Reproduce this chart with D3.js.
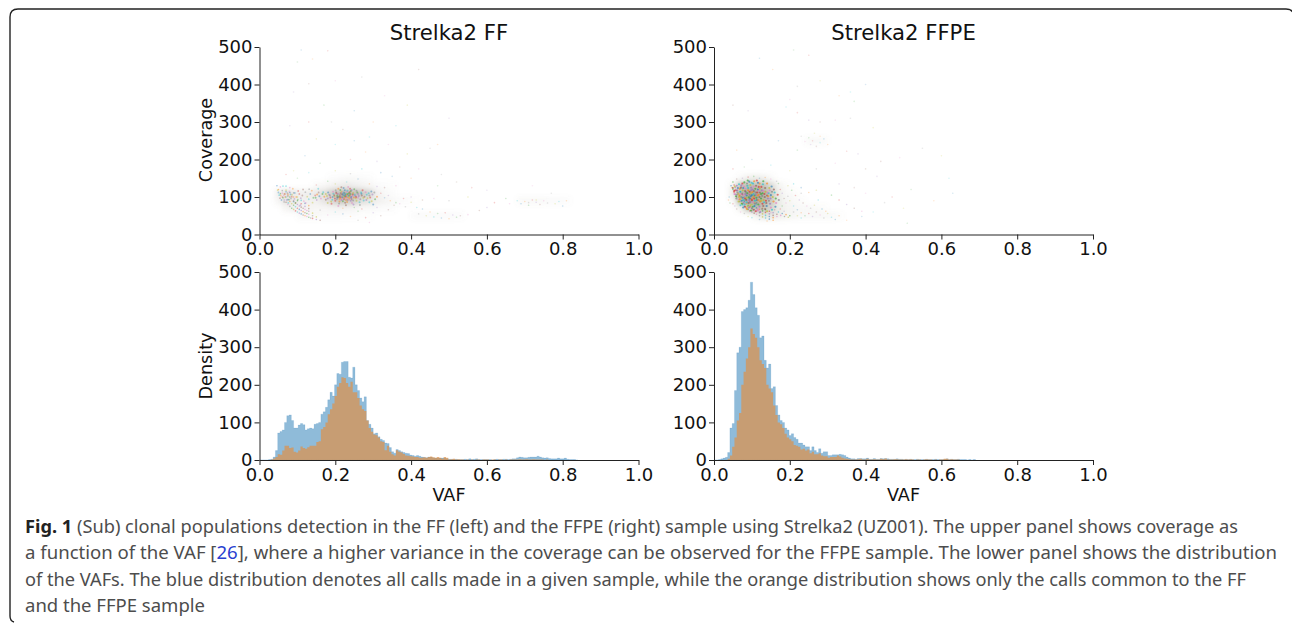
<!DOCTYPE html>
<html>
<head>
<meta charset="utf-8">
<script src="https://cdn.jsdelivr.net/npm/d3@7"></script>
<style>
  html, body { margin: 0; padding: 0; background: #fff; }
  svg { display: block; }
  .axis text { font-family: "DejaVu Sans", sans-serif; font-size: 18px; fill: #111; }
  .axis path, .axis line { stroke: #222; stroke-width: 1; }
  .label { font-family: "DejaVu Sans", sans-serif; font-size: 17.6px; fill: #111; text-anchor: middle; }
  .title { font-family: "DejaVu Sans", sans-serif; font-size: 21.2px; fill: #111; text-anchor: middle; }
  .caption { font-family: "Noto Sans", sans-serif; font-size: 18px; fill: #4d4d4d; }
  .caption .fig { font-weight: 700; fill: #222; }
  .caption .ref { fill: #2a3fd0; }
</style>
</head>
<body>
<svg id="chart" width="1292" height="624"></svg>
<script>
const BIN_WIDTH = 0.006;
const CELL_VAF = 0.02;
const CELL_COV = 20;
const X_TICKS = [0, 0.2, 0.4, 0.6, 0.8, 1];
const Y_TICKS = [0, 100, 200, 300, 400, 500];

// histogram heights, one per bin, starting at VAF 0
const ffAll = [0,0,0,0,1,2,8,25,72,76,80,100,118,120,105,85,85,93,97,94,80,83,85,83,95,97,100,122,128,140,160,180,170,200,230,228,260,262,262,220,218,247,200,185,165,155,168,105,95,85,70,72,62,55,52,45,44,33,22,18,28,25,22,20,18,17,13,12,10,12,10,8,7,6,8,8,6,5,6,5,5,6,4,2,2,2,2,1,1,1,2,1,3,1,2,3,1,1,1,1,1,1,0,1,2,1,1,2,2,1,2,3,3,6,8,7,6,6,7,8,8,8,10,8,6,5,6,4,3,3,3,5,3,3,5,2,1,1,1,0];
const ffCommon = [0,0,0,0,0,1,4,8,15,14,25,38,38,32,33,22,20,25,36,32,30,34,38,38,38,48,50,82,88,100,122,135,150,170,195,205,220,218,205,195,208,180,180,165,145,135,130,105,85,75,68,66,60,50,48,26,38,22,15,12,26,22,20,16,12,11,10,9,8,8,6,6,7,6,8,9,7,6,8,6,3,8,6,1,2,3,1,2,1,1,0,1,0,1,0,1,1,0,1,1,1,0,1,1,0,1,1,0,1,0,1,1,1,1,2,1,1,2,1,1,2,1,1,1,1,0,1];
const ffpeAll = [0,0,1,3,5,7,20,85,97,185,285,300,395,400,405,425,473,440,405,385,325,330,265,245,255,190,195,145,120,105,100,85,80,65,70,60,55,45,45,40,35,35,25,35,25,20,30,18,22,22,12,12,14,14,14,15,14,12,8,5,3,3,2,4,4,3,3,5,2,2,4,2,2,4,3,4,3,2,2,2,3,2,2,1,2,1,2,1,1,2,1,1,1,2,1,1,1,2,1,1,1,2,3,1,2,1,1,2,1,1,1,0,1,0,1];
const ffpeCommon = [0,0,0,0,0,0,3,12,35,60,105,125,200,235,270,300,350,335,325,300,265,255,245,200,190,180,145,120,100,95,85,70,60,55,50,40,38,35,28,30,25,28,18,22,15,15,18,12,10,10,6,8,8,8,12,9,6,4,3,2,1,1,1,2,3,1,1,3,1,1,2,1,1,3,2,4,1,1,1,2,2,1,1,1,2,1,2,1,0,1,1,0,1,2,1,1,0,1,0,1,1,3,3,1,2,1,1,1];

const ffHaze = [[.04,100,.12],[.06,100,.24],[.08,100,.18],[.1,100,.12],[.12,100,.14],[.14,100,.18],[.16,100,.26],[.18,100,.4],[.2,100,.55],[.22,100,.62],[.24,100,.55],[.26,100,.45],[.28,100,.34],[.3,100,.12],[.32,100,.06],[.34,100,.03],
  [.04,80,.08],[.06,80,.22],[.08,80,.17],[.1,80,.12],[.12,80,.12],[.14,80,.12],[.16,80,.2],[.18,80,.32],[.2,80,.45],[.22,80,.45],[.24,80,.38],[.26,80,.27],[.28,80,.22],[.3,80,.12],[.32,80,.09],[.34,80,.06],[.36,80,.04],[.38,80,.03],[.4,80,.02],
  [.14,120,.05],[.16,120,.07],[.18,120,.1],[.2,120,.14],[.22,120,.17],[.24,120,.14],[.26,120,.1],[.28,120,.07],[.3,120,.04],[.32,120,.03],[.34,120,.02],
  [.06,60,.08],[.08,60,.12],[.1,60,.1],[.12,60,.08],[.14,60,.07],[.16,60,.07],[.18,60,.08],[.2,60,.09],[.22,60,.09],[.24,60,.08],[.26,60,.06],[.28,60,.05],[.3,60,.04],[.32,60,.03],[.34,60,.03],
  [.1,40,.06],[.12,40,.06],[.14,40,.05],[.16,40,.04],[.18,40,.04],[.2,40,.04],[.22,40,.03],[.24,40,.03],[.26,40,.02],[.28,40,.02],[.4,40,.04],[.42,40,.04],[.44,40,.04],[.46,40,.04],[.48,40,.04],[.5,40,.04],[.52,40,.03],
  [.18,140,.03],[.2,140,.04],[.22,140,.05],[.24,140,.05],[.26,140,.04],[.28,140,.03],[.68,80,.05],[.7,80,.05],[.72,80,.05],[.74,80,.05],[.76,80,.04],[.78,80,.04],[.8,80,.03]];
const ffpeHaze = [[.04,120,.1],[.06,120,.45],[.08,120,.55],[.1,120,.55],[.12,120,.5],[.14,120,.3],[.16,120,.1],[.18,120,.03],
  [.04,100,.15],[.06,100,.6],[.08,100,.7],[.1,100,.7],[.12,100,.65],[.14,100,.45],[.16,100,.14],[.18,100,.06],[.2,100,.03],
  [.04,80,.05],[.06,80,.55],[.08,80,.7],[.1,80,.7],[.12,80,.6],[.14,80,.45],[.16,80,.17],[.18,80,.08],[.2,80,.05],[.22,80,.03],
  [.06,60,.1],[.08,60,.45],[.1,60,.55],[.12,60,.5],[.14,60,.35],[.16,60,.17],[.18,60,.1],[.2,60,.07],[.22,60,.06],[.24,60,.05],[.26,60,.04],[.28,60,.03],
  [.1,40,.1],[.12,40,.2],[.14,40,.2],[.16,40,.14],[.18,40,.1],[.2,40,.07],[.22,40,.06],[.24,40,.06],[.26,40,.06],[.28,40,.06],[.3,40,.05],[.32,40,.03],
  [.06,140,.05],[.08,140,.12],[.1,140,.15],[.12,140,.12],[.14,140,.05],[.24,240,.05],[.26,240,.06],[.28,240,.04]];

// FF scatter, [VAF, coverage]
const ffCore = [[.221,104],[.214,97],[.236,110],[.228,101],[.207,108],[.243,95],[.219,113],[.232,92],[.198,102],[.251,106],[.225,118],[.211,88],[.241,116],[.187,99],[.262,103],[.217,107],[.229,96],[.204,94],[.247,111],[.195,109],[.226,106],[.233,99],[.209,101],[.238,104],[.216,92],[.224,111],[.245,102],[.202,113],[.254,97],[.192,93],[.269,109],[.231,87],[.213,119],[.239,122],[.184,106],[.277,101],[.222,98],[.235,105],[.218,101],[.227,109],[.206,98],[.249,99],[.258,112],[.199,96],[.241,90],[.212,105],[.23,114],[.266,94],[.178,103],[.283,106],[.22,108],[.237,96],[.205,104],[.246,107],[.215,100],[.223,94],[.194,114],[.256,117],[.274,98],[.288,110],[.181,112],[.171,101],[.166,108],[.292,99],[.298,107],[.226,85],[.244,84],[.21,83],[.189,88],[.264,86],[.222,124],[.208,122],[.25,121],[.272,118],[.282,92],[.175,93],[.162,96],[.303,112],[.296,89],[.234,103],[.219,99],[.228,92],[.24,108],[.203,110],[.253,103],[.197,105],[.26,98],[.186,104],[.216,114],[.232,117],[.242,100],[.211,95],[.225,102],[.238,113],[.26,108],[.27,104],[.28,113],[.29,104],[.175,108],[.168,113],[.158,102],[.152,107],[.148,98],[.2,90],[.18,96],[.214,110],[.236,93],[.247,91],[.256,90],[.268,112],[.193,100],[.23,106],[.22,89],[.255,100],[.243,119],[.216,126],[.234,127],[.201,118],[.285,97],[.275,91],[.295,115],[.31,101],[.305,94],[.19,82],[.248,80],[.228,78],[.208,76],[.265,79],[.18,84],[.29,86],[.3,80],[.224,98],[.232,108],[.212,100],[.241,98],[.205,100],[.218,94],[.227,104],[.237,101],[.222,112]];
const ffLobe = [[.05,112],[.056,104],[.062,98],[.067,108],[.072,92],[.075,103],[.079,115],[.083,96],[.086,106],[.09,88],[.093,111],[.097,100],[.101,93],[.105,108],[.109,97],[.113,104],[.117,89],[.121,113],[.126,101],[.13,94],[.134,108],[.138,117],[.142,98],[.147,104],[.151,92],[.156,112],[.06,110],[.065,87],[.07,118],[.076,84],[.082,107],[.088,122],[.095,84],[.102,116],[.108,78],[.115,120],[.122,84],[.131,121],[.14,85],[.155,122],[.058,92],[.068,100],[.078,93],[.085,101],[.092,95],[.054,97],[.064,104],[.074,110],[.048,118],[.052,105]];
const ffArcs = [[.046,130],[.05,120],[.055,109],[.06,100],[.065,92],[.07,86],[.075,80],[.08,75],[.09,67],[.1,60],[.11,55],[.12,50],[.13,46],[.14,43],[.15,40],[.16,38],[.055,127],[.06,117],[.065,108],[.07,100],[.075,93],[.08,88],[.09,78],[.1,70],[.11,64],[.12,58],[.13,54],[.14,50],[.15,47],[.062,129],[.07,114],[.075,107],[.08,100],[.09,89],[.1,80],[.11,73],[.12,67],[.13,62],[.14,57],[.07,129],[.08,112],[.09,100],[.1,90],[.11,82],[.12,75],[.13,69],[.08,125],[.09,111],[.1,100],[.11,91],[.12,83],[.13,77],[.085,70],[.095,63],[.105,57],[.115,52],[.125,48],[.135,44],[.085,82],[.095,74],[.105,67],[.115,61],[.125,56],[.095,84],[.105,76],[.115,70],[.125,64]];
const ffHalo = [[.33,98],[.345,90],[.36,85],[.32,110],[.34,104],[.355,78],[.37,82],[.385,74],[.4,86],[.415,72],[.43,68],[.45,60],[.47,56],[.49,58],[.51,52],[.53,50],[.55,53],[.42,55],[.44,50],[.46,47],[.48,44],[.5,42],[.52,46],[.38,96],[.4,100],[.43,92],[.46,96],[.5,90],[.55,100],[.68,90],[.69,82],[.7,88],[.71,78],[.72,92],[.73,86],[.74,80],[.75,90],[.76,84],[.78,82],[.79,88],[.8,76],[.81,90],[.65,96],[.62,85],[.6,72],[.58,64],[.66,82],[.71,85],[.73,92],[.2,60],[.22,55],[.24,48],[.26,62],[.28,45],[.3,58],[.32,50],[.18,52],[.16,65],[.2,135],[.23,140],[.26,148],[.29,135],[.18,142],[.15,132],[.31,128],[.33,125],[.36,130],[.24,162],[.2,170],[.27,175],[.32,165],[.22,70],[.25,72],[.27,68],[.31,72],[.34,66],[.29,32],[.26,38]];
const ffSparse = [[.11,492],[.14,468],[.1,460],[.18,490],[.09,380],[.13,402],[.2,410],[.27,420],[.39,345],[.36,290],[.25,330],[.3,300],[.17,345],[.13,300],[.08,290],[.22,280],[.34,240],[.45,230],[.39,215],[.2,240],[.12,210],[.28,220],[.16,190],[.24,200],[.31,195],[.37,180],[.42,175],[.48,160],[.09,170],[.13,165],[.35,155],[.4,150],[.47,130],[.56,125],[.6,118],[.52,140],[.72,130],[.77,110],[.15,255],[.29,260],[.25,250],[.47,240],[.1,150],[.07,160],[.5,310],[.42,440],[.33,370],[.19,300]];

// FFPE scatter, [VAF, coverage]
const ffpeCore = [[.1,105],[.09,118],[.112,98],[.082,96],[.095,87],[.121,112],[.105,128],[.074,109],[.131,92],[.088,130],[.116,120],[.068,122],[.102,74],[.128,82],[.078,84],[.14,104],[.147,118],[.062,112],[.097,110],[.108,90],[.086,104],[.118,106],[.092,99],[.125,127],[.072,131],[.135,124],[.083,122],[.11,112],[.066,100],[.103,136],[.093,141],[.12,136],[.08,139],[.056,118],[.06,130],[.05,124],[.054,108],[.059,96],[.065,88],[.07,78],[.077,72],[.087,68],[.098,64],[.11,62],[.122,60],[.135,68],[.15,72],[.145,90],[.155,100],[.16,112],[.152,128],[.14,136],[.13,142],[.113,144],[.098,125],[.105,116],[.091,108],[.084,113],[.076,118],[.069,114],[.063,124],[.115,104],[.124,96],[.133,108],[.142,96],[.138,84],[.12,74],[.108,82],[.096,78],[.086,86],[.076,98],[.099,95],[.107,104],[.094,114],[.102,120],[.111,130],[.119,117],[.127,103],[.136,114],[.144,110],[.15,105],[.157,88],[.163,96],[.168,106],[.148,82],[.13,76],[.115,68],[.1,70],[.089,75],[.081,80],[.073,90],[.067,104],[.058,102],[.053,116],[.061,118],[.071,125],[.079,128],[.087,136],[.096,132],[.104,108],[.113,92],[.122,88],[.117,80],[.106,96],[.093,92],[.085,92],[.078,106],[.072,100],[.064,108],[.09,124],[.097,102],[.101,113],[.109,122],[.118,127],[.126,118],[.134,100],[.141,112],[.153,114],[.146,124],[.129,134],[.116,138],[.106,142],[.089,144],[.075,136],[.083,108],[.091,84],[.103,86],[.112,84],[.125,90],[.132,86],[.139,76],[.143,102],[.128,110],[.114,112],[.098,118],[.082,116],[.07,108],[.06,106],[.055,128],[.066,134],[.095,96],[.104,100],[.088,110],[.1,92],[.11,106],[.12,100],[.13,116],[.094,106],[.086,98],[.079,92],[.107,76],[.117,92],[.124,108],[.137,90],[.149,96],[.158,120],[.164,84],[.171,92],[.121,122],[.099,138],[.077,124],[.068,94],[.074,82],[.082,74],[.092,72],[.104,66],[.116,64],[.127,68],[.14,62],[.153,66],[.162,74]];
const ffpeArcs = [[.045,130],[.048,125],[.05,120],[.053,113],[.056,107],[.06,100],[.064,94],[.068,88],[.072,83],[.076,79],[.08,75],[.085,71],[.09,67],[.095,63],[.1,60],[.106,57],[.112,54],[.12,50],[.128,47],[.136,44],[.146,41],[.156,38],[.05,140],[.053,132],[.056,125],[.06,117],[.064,109],[.068,103],[.072,97],[.076,92],[.08,88],[.085,82],[.09,78],[.095,74],[.1,70],[.106,66],[.112,63],[.12,58],[.128,55],[.136,51],[.146,48],[.156,45],[.07,114],[.075,107],[.08,100],[.085,94],[.09,89],[.095,84],[.1,80],[.106,75],[.112,71],[.12,67],[.128,63],[.136,59],[.146,55],[.156,51],[.166,48],[.1,90],[.106,85],[.112,80],[.12,75],[.128,70],[.136,66],[.146,62],[.156,58],[.166,54],[.176,51],[.186,48],[.196,46],[.17,60],[.18,56],[.19,53],[.2,50]];
const ffpeHalo = [[.04,100],[.038,92],[.042,84],[.05,82],[.055,76],[.06,68],[.07,60],[.08,56],[.09,48],[.1,45],[.12,40],[.14,36],[.17,136],[.175,120],[.18,110],[.185,96],[.19,84],[.195,102],[.2,90],[.21,76],[.22,66],[.23,58],[.24,50],[.25,56],[.26,48],[.27,60],[.28,52],[.29,44],[.3,56],[.31,46],[.32,40],[.33,50],[.205,118],[.215,104],[.225,92],[.235,84],[.245,76],[.255,70],[.265,78],[.275,92],[.285,68],[.295,62],[.18,76],[.175,68],[.185,62],[.16,66],[.15,58],[.21,60],[.22,50],[.23,44],[.12,150],[.135,152],[.105,155],[.09,153],[.075,150],[.06,148],[.15,148],[.165,142],[.195,130],[.21,135],[.23,125],[.25,112],[.31,105],[.33,92],[.35,80],[.37,70],[.39,62],[.23,110],[.27,118]];
const ffpeSparse = [[.12,470],[.155,440],[.21,492],[.25,478],[.09,330],[.05,345],[.2,360],[.22,395],[.28,410],[.36,380],[.4,400],[.33,370],[.37,355],[.22,325],[.25,305],[.28,300],[.32,305],[.36,310],[.42,285],[.19,340],[.17,250],[.28,262],[.25,258],[.26,250],[.255,240],[.27,235],[.24,248],[.23,262],[.265,270],[.28,245],[.29,255],[.3,240],[.22,225],[.35,222],[.38,215],[.44,195],[.49,205],[.55,230],[.6,210],[.62,150],[.63,110],[.58,90],[.52,120],[.47,100],[.43,155],[.4,175],[.32,190],[.27,175],[.2,170],[.15,185],[.1,200],[.06,225],[.08,180],[.05,175],[.33,135],[.37,125],[.4,110],[.45,85],[.5,70],[.42,60],[.39,48],[.35,38],[.51,30]];

const svg = d3.select('#chart');

const defs = svg.append('defs');
defs.append('filter').attr('id', 'haze').attr('x', '-20%').attr('y', '-20%').attr('width', '140%').attr('height', '140%')
  .append('feGaussianBlur').attr('stdDeviation', 2.6);
defs.append('filter').attr('id', 'soft').attr('x', '-5%').attr('y', '-5%').attr('width', '110%').attr('height', '110%')
  .append('feGaussianBlur').attr('stdDeviation', 0.4);

// caption frame, the right side runs off the page
svg.append('path')
  .attr('d', 'M1294,24 V17 Q1294,9 1286,9 H18 Q10,9 10,17 V616 Q10,621 14,622')
  .attr('fill', 'none')
  .attr('stroke', '#222')
  .attr('stroke-width', 1.4);

function makeAxes(g, x, y) {
  const yAxis = d3.axisLeft(y).tickValues(Y_TICKS).tickSize(5).tickPadding(2).tickSizeOuter(0);
  const xAxis = d3.axisBottom(x).tickValues(X_TICKS).tickSize(5).tickPadding(3).tickSizeOuter(0).tickFormat(d3.format('.1f'));
  g.append('g').attr('class', 'axis').attr('transform', `translate(${x(0)},0)`).call(yAxis);
  g.append('g').attr('class', 'axis').attr('transform', `translate(0,${y(0)})`).call(xAxis);
}

function drawHaze(g, x, y, cells, color) {
  g.append('g').attr('filter', 'url(#haze)').selectAll('rect')
    .data(cells)
    .enter()
    .append('rect')
    .attr('x', d => x(d[0]))
    .attr('y', d => y(d[1] + CELL_COV))
    .attr('width', x(CELL_VAF) - x(0))
    .attr('height', y(0) - y(CELL_COV))
    .attr('fill', color)
    .attr('opacity', d => d[2]);
}

function drawDots(g, x, y, points, radius, alpha) {
  g.append('g').attr('filter', 'url(#soft)').selectAll('circle')
    .data(points)
    .enter()
    .append('circle')
    .attr('cx', d => x(d[0]))
    .attr('cy', d => y(d[1]))
    .attr('r', radius)
    .attr('fill', (d, i) => d3.schemeCategory10[i % 10])
    .attr('opacity', alpha);
}

function drawBars(g, x, y, values, color, edge) {
  const area = d3.area()
    .x((d, i) => x(i * BIN_WIDTH))
    .y0(y(0))
    .y1(d => y(d))
    .curve(d3.curveStepAfter);
  g.append('path')
    .attr('d', area(values.concat([0])))
    .attr('fill', color)
    .attr('fill-opacity', 0.5)
    .attr('stroke', color)
    .attr('stroke-opacity', edge)
    .attr('stroke-width', 1);
}

function drawScatter(left, haze, hazeColor, sets) {
  const x = d3.scaleLinear().domain([0, 1]).range([left, left + 379]);
  const y = d3.scaleLinear().domain([0, 500]).range([234.5, 47]);
  const g = svg.append('g');
  drawHaze(g, x, y, haze, hazeColor);
  sets.forEach(s => drawDots(g, x, y, s.points, s.radius, s.alpha));
  makeAxes(g, x, y);
}

function drawHistogram(left, all, common) {
  const x = d3.scaleLinear().domain([0, 1]).range([left, left + 379]);
  const y = d3.scaleLinear().domain([0, 500]).range([460, 272]);
  const g = svg.append('g');
  drawBars(g, x, y, all, '#1f77b4', 0.12);
  drawBars(g, x, y, common, '#ff7f0e', 0);
  makeAxes(g, x, y);
}

drawScatter(259.5, ffHaze, '#8b8478', [
  { points: ffSparse, radius: 0.8, alpha: 0.16 },
  { points: ffHalo, radius: 0.8, alpha: 0.22 },
  { points: ffArcs, radius: 0.8, alpha: 0.42 },
  { points: ffLobe, radius: 0.9, alpha: 0.35 },
  { points: ffCore, radius: 1, alpha: 0.42 }
]);
drawScatter(714, ffpeHaze, '#85866f', [
  { points: ffpeSparse, radius: 0.8, alpha: 0.16 },
  { points: ffpeHalo, radius: 0.8, alpha: 0.25 },
  { points: ffpeArcs, radius: 0.8, alpha: 0.5 },
  { points: ffpeCore, radius: 1.1, alpha: 0.6 }
]);
drawHistogram(259.5, ffAll, ffCommon);
drawHistogram(714, ffpeAll, ffpeCommon);

const titles = [['Strelka2 FF', 449], ['Strelka2 FFPE', 903.5]];
svg.selectAll('.title').data(titles).enter().append('text')
  .attr('class', 'title').attr('x', d => d[1]).attr('y', 40).text(d => d[0]);

const yLabels = [['Coverage', 140], ['Density', 366]];
svg.selectAll('.ylab').data(yLabels).enter().append('text')
  .attr('class', 'label ylab')
  .attr('transform', d => `translate(212,${d[1]}) rotate(-90)`)
  .text(d => d[0]);

svg.selectAll('.xlab').data([449, 903.5]).enter().append('text')
  .attr('class', 'label xlab').attr('x', d => d).attr('y', 501).text('VAF');

// caption, lines fitted to the reference widths
const captionLines = [
  { y: 533, end: 1238, parts: [['Fig. 1', 'fig'], [' (Sub) clonal populations detection in the FF (left) and the FFPE (right) sample using Strelka2 (UZ001). The upper panel shows coverage as', '']] },
  { y: 559, end: 1277, parts: [['a function of the VAF [', ''], ['26', 'ref'], ['], where a higher variance in the coverage can be observed for the FFPE sample. The lower panel shows the distribution', '']] },
  { y: 586, end: 1246, parts: [['of the VAFs. The blue distribution denotes all calls made in a given sample, while the orange distribution shows only the calls common to the FF', '']] },
  { y: 612, end: 205, parts: [['and the FFPE sample', '']] }
];
captionLines.forEach(line => {
  const t = svg.append('text').attr('class', 'caption').attr('x', 25).attr('y', line.y)
    .attr('textLength', line.end - 25).attr('lengthAdjust', 'spacingAndGlyphs');
  line.parts.forEach(p => t.append('tspan').attr('class', p[1]).text(p[0]));
});
</script>
</body>
</html>
